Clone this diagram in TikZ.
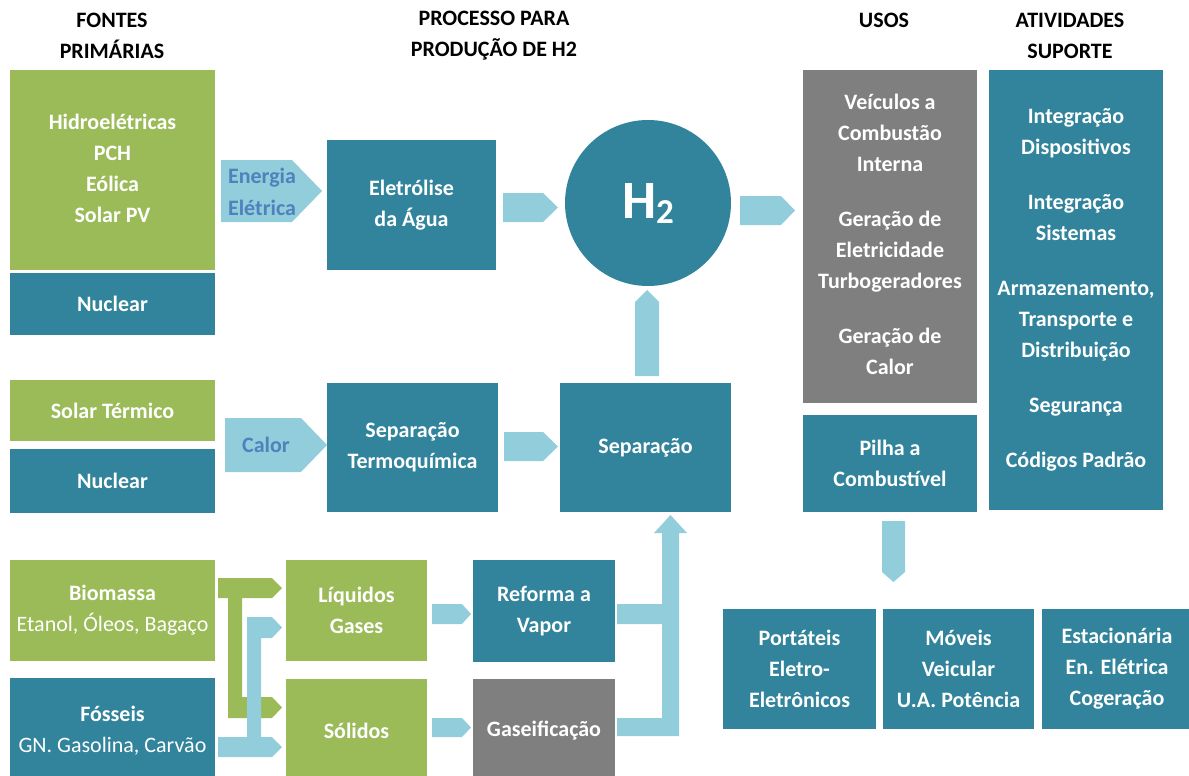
\documentclass[tikz,border=0pt]{standalone}
\usepackage{fontspec}
\setmainfont{Carlito}
\definecolor{cTeal}{HTML}{31849B}
\definecolor{cGreen}{HTML}{9BBB59}
\definecolor{cGray}{HTML}{7F7F7F}
\definecolor{cArr}{HTML}{92CDDC}
\definecolor{cTxt}{HTML}{4F81BD}
\newcommand\bx[7]{\node[#6, minimum width={(#4-#2)*0.5pt}, minimum height={(#5-#3)*0.5pt}] (#1) at ({(#2+#4)/2},{(#3+#5)/2}) {#7};}
% right-pointing home plate: x1 y1 x2 y2 tip
\newcommand\hpR[5]{\fill[cArr] (#1,#2) -- ({#3-#5},#2) -- (#3,{(#2+#4)/2}) -- ({#3-#5},#4) -- (#1,#4) -- cycle;}
\begin{document}
\begin{tikzpicture}[x=0.5pt,y=-0.5pt,
  basebox/.style={rectangle, inner sep=0pt, outer sep=0pt, text=white, align=center,
    font=\bfseries\fontsize{11}{15.5}\selectfont},
  tbox/.style={basebox, fill=cTeal},
  gbox/.style={basebox, fill=cGreen},
  graybox/.style={basebox, fill=cGray},
  hdr/.style={align=center, inner sep=0pt, font=\bfseries\fontsize{11}{15.5}\selectfont},
  arrtxt/.style={align=center, inner sep=0pt, text=cTxt, font=\bfseries\fontsize{11}{16}\selectfont}]
\useasboundingbox (0,0) rectangle (1189,776);
\clip (0,0) rectangle (1189,776);

% headers
\node[hdr] (hfontes) at (112,35.5) {FONTES\\PRIMÁRIAS};
\node[hdr] (hproc) at (494,35.5) {PROCESSO PARA\\PRODUÇÃO DE H2};
\node[hdr] (husos) at (884,20) {USOS};
\node[hdr] (hativ) at (1070,35.5) {ATIVIDADES\\SUPORTE};

% primary sources
\bx{hidro}{10}{70}{215}{266}{gbox}{Hidroelétricas\\PCH\\Eólica\\Solar PV}
\fill[cGreen] (hidro.south west) rectangle ++(205,4);
\bx{nuc1}{10}{273}{215}{335}{tbox}{Nuclear}
\bx{solar}{10}{380}{215}{441}{gbox}{Solar Térmico}
\bx{nuc2}{10}{449}{215}{513}{tbox}{Nuclear}
\bx{bio}{10}{560}{215}{661}{gbox}{Biomassa\\{\mdseries Etanol, Óleos, Bagaço}}
\bx{foss}{10}{678}{215}{783}{tbox}{Fósseis\\{\mdseries GN. Gasolina, Carvão}}

% processes
\bx{eletro}{327}{140}{496}{270}{tbox}{Eletrólise\\da Água}
\bx{termo}{327}{383}{498}{512}{tbox}{Separação\\Termoquímica}
\bx{sep}{560}{383}{731}{512}{tbox}{Separação}
\bx{liq}{286}{560}{427}{661}{gbox}{Líquidos\\Gases}
\bx{sol}{286}{679}{427}{783}{gbox}{Sólidos}
\bx{ref}{473}{560}{615}{662}{tbox}{Reforma a\\Vapor}
\bx{gas}{473}{679}{615}{783}{graybox}{Gaseificação}

\node[circle, fill=cTeal, inner sep=0pt, minimum size=83pt, text=white,
  font=\bfseries\fontsize{27}{30}\selectfont] (h2) at (648,203)
  {H{\fontsize{17.5}{18}\selectfont\raisebox{-2.5pt}{2}}};

% uses
\bx{usos}{803}{70}{977}{399}{graybox}{Veículos a\\Combustão\\Interna\\[12pt]Geração de\\Eletricidade\\Turbogeradores\\[12pt]Geração de\\Calor}
\fill[cGray] (usos.south west) rectangle ++(174,4);
\bx{pilha}{803}{415}{977}{512}{tbox}{Pilha a\\Combustível}
\bx{ativ}{989}{70}{1163}{510}{tbox}{Integração\\Dispositivos\\[12pt]Integração\\Sistemas\\[12pt]Armazenamento,\\Transporte e\\Distribuição\\[12pt]Segurança\\[12pt]Códigos Padrão}
\bx{port}{723}{609}{876}{729}{tbox}{Portáteis\\Eletro-\\Eletrônicos}
\bx{mov}{883}{609}{1034}{729}{tbox}{Móveis\\Veicular\\U.A. Potência}
\bx{est}{1042}{609}{1192}{729}{tbox}{Estacionária\\En. Elétrica\\Cogeração}

% block arrows
\hpR{221}{160}{322}{222}{30}
\node[arrtxt] (energia) at (262,192) {Energia\\Elétrica};
\hpR{503}{193}{558}{222}{15}
\hpR{740}{196}{795}{225}{14}
\hpR{225}{418}{327}{472}{26}
\node[arrtxt] (calor) at (266,445) {Calor};
\hpR{504}{432}{558}{461}{15}
\hpR{432}{604}{471}{624}{9}
\hpR{432}{718}{471}{737}{9}
% up into H2
\fill[cArr] (635,376) -- (635,302) -- (647,290) -- (659,302) -- (659,376) -- cycle;
% down from Pilha
\fill[cArr] (882,521) -- (905,521) -- (905,572) -- (893.5,582) -- (882,572) -- cycle;
% collector to Separacao
\fill[cArr] (617,604) -- (662,604) -- (662,533) -- (654,533) -- (670.5,515) -- (687,533)
  -- (679,533) -- (679,736) -- (617,736) -- (617,718) -- (662,718) -- (662,624) -- (617,624) -- cycle;
% green T from Biomassa
\fill[cGreen] (218,578) -- (272,578) -- (282,588) -- (272,598) -- (242,598) -- (242,697)
  -- (272,697) -- (282,707.5) -- (272,718) -- (228,718) -- (228,598) -- (218,598) -- cycle;
% blue connector from Fosseis
\fill[cArr] (218,737) -- (247,737) -- (247,617) -- (272,617) -- (282,627.5) -- (272,638)
  -- (261,638) -- (261,737) -- (272,737) -- (282,747) -- (272,757) -- (218,757) -- cycle;
\end{tikzpicture}
\end{document}
